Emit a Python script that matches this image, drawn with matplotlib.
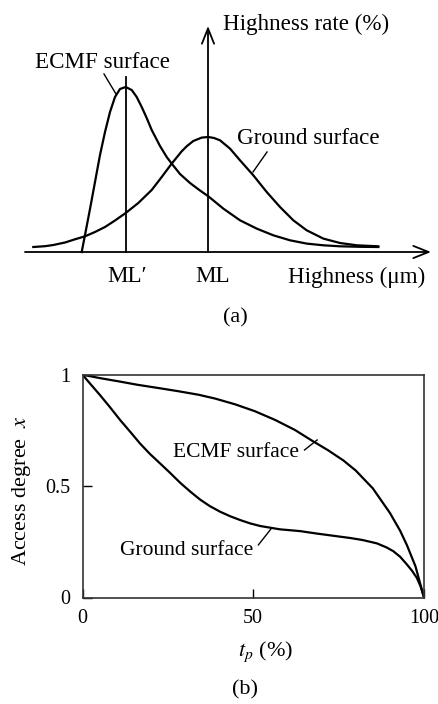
import matplotlib
matplotlib.use("Agg")
import matplotlib.pyplot as plt

plt.rcParams['font.family'] = ['Liberation Serif', 'DejaVu Serif']
plt.rcParams['mathtext.fontset'] = 'stix'

# ---- (a) height distribution (arbitrary units) ----
ecmf_h = [81.7, 85, 90, 95, 100, 105, 110, 115, 120, 125.7, 131.7, 136.7, 141.7,
          146.7, 151.7, 160, 166.7, 171.7, 180, 190, 200, 208.3, 223.3, 240,
          256.7, 273.3, 290, 306.7, 323.3, 340, 360, 378.3]
ecmf_rate = [0, 17, 43, 70, 97, 120, 140, 155, 163, 165, 162, 155, 145,
             134, 122, 106, 95, 88.4, 78, 69, 61.5, 55.7, 43.4, 31.7,
             23.4, 16.7, 11.7, 8.4, 6.7, 5.7, 5.2, 5]
ground_h = [33.3, 45, 53.3, 65, 75, 85, 95, 105, 115, 125.7, 138.3, 151.7, 161.7,
            171.7, 181.7, 187, 193.3, 201.7, 208.3, 214, 220, 230, 240, 253.3,
            266.7, 280, 293.3, 306.7, 323.3, 340, 356.7, 378.3]
ground_rate = [5, 5.8, 7, 9.5, 12.7, 15.7, 20, 25, 31.5, 39, 49, 62, 75,
               88.4, 100.7, 106, 111, 114.4, 115, 114, 111.7, 103.4, 91.7, 76.7,
               60, 45, 31.7, 21.7, 13.4, 9, 6.7, 5.7]
ml_prime = 126
ml = 208

# ---- (b) access degree curves ----
ecmf_tp = [0, 5, 11, 16, 22.7, 28, 34, 38.8, 44.7, 50.5, 56.4, 62.2, 67.1, 72,
           76.4, 80, 85, 90, 93, 95, 97.5, 100]
ecmf_x = [1, 0.985, 0.969, 0.955, 0.939, 0.926, 0.91, 0.893, 0.867, 0.836, 0.797,
          0.752, 0.705, 0.66, 0.615, 0.57, 0.49, 0.38, 0.3, 0.235, 0.14, 0]
ground_tp = [0, 2.5, 5.1, 8, 11, 13.9, 16.8, 19.7, 22.7, 25.6, 28.6, 31.5, 34.4,
             37.3, 40.3, 43.2, 46.1, 49, 52, 57.8, 63.7, 68.6, 73.5, 78.4, 82,
             86.2, 89, 91, 93, 94.9, 96.5, 97.9, 99, 100]
ground_x = [1, 0.955, 0.909, 0.855, 0.797, 0.745, 0.692, 0.645, 0.602, 0.56, 0.515,
            0.476, 0.44, 0.41, 0.385, 0.365, 0.348, 0.333, 0.321, 0.306, 0.298,
            0.287, 0.277, 0.267, 0.258, 0.243, 0.225, 0.208, 0.183, 0.15, 0.12,
            0.088, 0.05, 0]

W, H = 438, 704
fig = plt.figure(figsize=(W / 100, H / 100), dpi=100)

lw = 1.6
fs_a = 16.6
fs_b = 15.5
fs = 16
tfs = 14.5

# top panel
ax1 = fig.add_axes([0, 1 - 340 / H, 1, 340 / H])
ax1.set_xlim(0, W)
ax1.set_ylim(-88, 252)
ax1.axis('off')
arrow = dict(arrowstyle='->,head_length=0.55,head_width=0.22', color='black', lw=1.3,
             mutation_scale=20, shrinkA=0, shrinkB=0)
ax1.annotate('', xy=(431, 0), xytext=(25, 0), arrowprops=arrow)
ax1.annotate('', xy=(ml, 226), xytext=(ml, 0), arrowprops=arrow)
ax1.plot([ml_prime, ml_prime], [0, 175], color='black', lw=1.3)
ax1.plot(ecmf_h, ecmf_rate, color='black', lw=lw, solid_joinstyle='round')
ax1.plot(ground_h, ground_rate, color='black', lw=lw, solid_joinstyle='round')
ax1.text(223, 228, 'Highness rate (%)', fontsize=fs_a, ha='left', va='center')
ax1.text(35, 190, 'ECMF surface', fontsize=fs_a, ha='left', va='center')
ax1.plot([104, 116], [178, 158], color='black', lw=1.0)
ax1.text(237, 113, 'Ground surface', fontsize=fs_a, ha='left', va='center')
ax1.plot([267, 253], [100, 80], color='black', lw=1.0)
ax1.text(ml_prime + 1, -25, 'ML\u2032', fontsize=fs_a, ha='center', va='center')
ax1.text(ml + 5, -25, 'ML', fontsize=fs_a, ha='center', va='center')
ax1.text(288, -25, 'Highness (\u03bcm)', fontsize=fs_a, ha='left', va='center')
ax1.text(235, -66, '(a)', fontsize=fs, ha='center', va='center')

# bottom panel
ax2 = fig.add_axes([82.5 / W, (H - 597.5) / H, 341.5 / W, 222.8 / H])
ax2.plot(ecmf_tp, ecmf_x, color='black', lw=lw, solid_joinstyle='round')
ax2.plot(ground_tp, ground_x, color='black', lw=lw, solid_joinstyle='round')
ax2.set_xlim(0, 100)
ax2.set_ylim(0, 1)
ax2.set_xticks([0, 50, 100])
ax2.set_yticks([0, 0.5, 1])
ax2.set_xticklabels(['0', '50', '100'])
ax2.set_yticklabels(['0', '0.5', '1'])
ax2.tick_params(direction='in', length=6.5, width=1.0, labelsize=tfs)
ax2.tick_params(axis='y', pad=9)
ax2.tick_params(axis='x', pad=8)
for s in ax2.spines.values():
    s.set_linewidth(1.2)
    s.set_color('#333333')
ax2.set_ylabel('Access degree  $x$', fontsize=fs, va='center')
ax2.yaxis.set_label_coords(-0.18, 0.482)
ax2.set_xlabel('$t_p$ (%)', fontsize=fs, va='center')
ax2.xaxis.set_label_coords(0.536, -0.245)
ax2.text(26.5, 0.653, 'ECMF surface', fontsize=fs_b, ha='left', va='center')
ax2.plot([65.0, 68.7], [0.662, 0.707], color='black', lw=1.0)
ax2.text(11.0, 0.213, 'Ground surface', fontsize=fs_b, ha='left', va='center')
ax2.plot([51.5, 55.1], [0.236, 0.306], color='black', lw=1.0)
fig.text(245 / W, 1 - 690 / H, '(b)', fontsize=fs, ha='center', va='center')

fig.savefig('out.png', dpi=100)
